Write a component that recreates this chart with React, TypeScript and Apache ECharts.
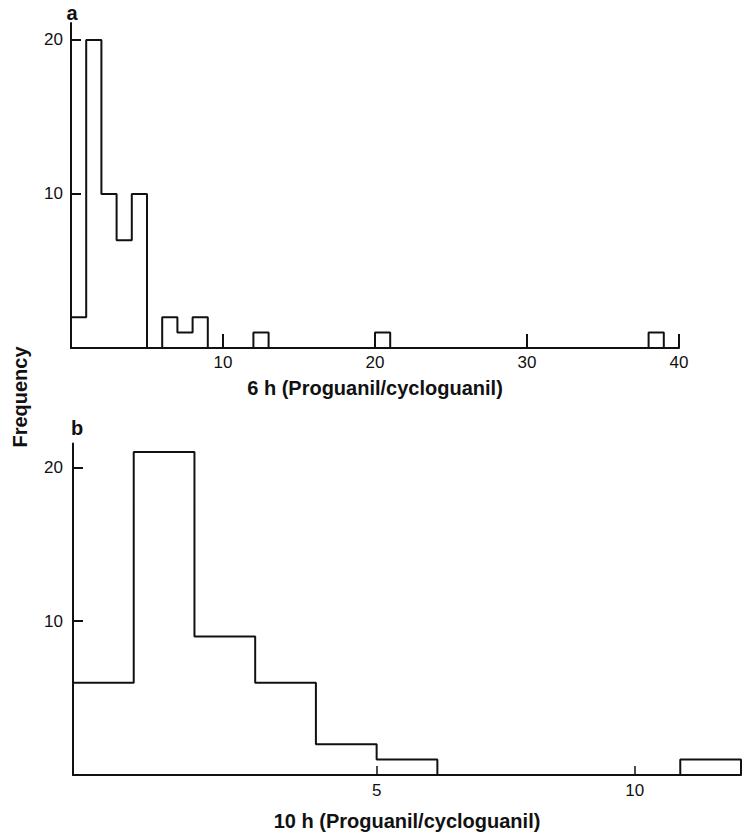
import React, { useEffect, useRef } from "react";
import * as echarts from "echarts";

// Panel a: 6 h ratio histogram (bin left edges, bin width 1)
const binStarts6h = [0, 1, 2, 3, 4, 6, 7, 8, 12, 20, 38];
const counts6h = [2, 20, 10, 7, 10, 2, 1, 2, 1, 1, 1];
// Panel b: 10 h ratio histogram
const binStarts10h = [0, 1, 2, 3, 4, 5, 10];
const counts10h = [6, 21, 9, 6, 2, 1, 1];
const binWidth = 1;

const xTicks6h = [10, 20, 30, 40];
const xTickLabels6h = ["10", "20", "30", "40"];
const xTicks10h = [5, 9.25];
const xTickLabels10h = ["5", "10"];
const yTicks = [10, 20];
const yTickLabels = ["10", "20"];

function outline(starts: number[], counts: number[], w: number) {
  const pts: number[][] = [];
  let prevEnd: number | null = null;
  starts.forEach((s, i) => {
    if (prevEnd === null) pts.push([s, 0]);
    else if (prevEnd !== s) {
      pts.push([prevEnd, 0]);
      pts.push([s, 0]);
    }
    pts.push([s, counts[i]]);
    pts.push([s + w, counts[i]]);
    prevEnd = s + w;
  });
  pts.push([prevEnd as number, 0]);
  return pts;
}

function lookup(ticks: number[], labels: string[]) {
  return (v: number) => {
    const i = ticks.findIndex((t) => Math.abs(t - v) < 1e-6);
    return i >= 0 ? labels[i] : "";
  };
}

const FONT = "Liberation Sans, Arial, Helvetica, sans-serif";
const black = "#111";

export default function App() {
  const ref = useRef<HTMLDivElement>(null);
  useEffect(() => {
    if (!ref.current) return;
    const chart = echarts.init(ref.current, null, { renderer: "svg" });
    const axisLine = { show: true, lineStyle: { color: black, width: 2 } };
    const tickLabel = { color: black, fontSize: 17, fontFamily: FONT };
    const nameStyle = { color: black, fontSize: 20, fontWeight: "bold" as const, fontFamily: FONT };
    chart.setOption({
      animation: false,
      backgroundColor: "#fff",
      grid: [
        { left: 71, top: 23, width: 608, height: 325, containLabel: false },
        { left: 73, top: 443.5, width: 668, height: 331.5, containLabel: false },
      ],
      xAxis: [
        {
          type: "value",
          gridIndex: 0,
          min: 0,
          max: 40,
          axisLine,
          splitLine: { show: false },
          axisTick: { show: true, inside: true, length: 14, customValues: xTicks6h, lineStyle: { color: black, width: 2 } },
          axisLabel: { ...tickLabel, margin: 6, customValues: xTicks6h, formatter: lookup(xTicks6h, xTickLabels6h) },
          name: "6 h (Proguanil/cycloguanil)",
          nameLocation: "middle",
          nameGap: 30,
          nameTextStyle: nameStyle,
        },
        {
          type: "value",
          gridIndex: 1,
          min: 0,
          max: 11,
          axisLine,
          splitLine: { show: false },
          axisTick: { show: true, inside: true, length: 9, customValues: xTicks10h, lineStyle: { color: black, width: 1.5 } },
          axisLabel: { ...tickLabel, margin: 7, customValues: xTicks10h, formatter: lookup(xTicks10h, xTickLabels10h) },
          name: "10 h (Proguanil/cycloguanil)",
          nameLocation: "middle",
          nameGap: 36,
          nameTextStyle: nameStyle,
        },
      ],
      yAxis: [
        {
          type: "value",
          gridIndex: 0,
          min: 0,
          max: 21.1,
          axisLine,
          splitLine: { show: false },
          axisTick: { show: true, inside: true, length: 10, customValues: yTicks, lineStyle: { color: black, width: 2 } },
          axisLabel: { ...tickLabel, margin: 8, customValues: yTicks, formatter: lookup(yTicks, yTickLabels) },
        },
        {
          type: "value",
          gridIndex: 1,
          min: 0,
          max: 21.55,
          axisLine,
          splitLine: { show: false },
          axisTick: { show: true, inside: true, length: 10, customValues: yTicks, lineStyle: { color: black, width: 2 } },
          axisLabel: { ...tickLabel, margin: 10, customValues: yTicks, formatter: lookup(yTicks, yTickLabels) },
        },
      ],
      series: [
        {
          type: "line",
          xAxisIndex: 0,
          yAxisIndex: 0,
          data: outline(binStarts6h, counts6h, binWidth),
          symbol: "none",
          lineStyle: { color: black, width: 2 },
          silent: true,
        },
        {
          type: "line",
          xAxisIndex: 1,
          yAxisIndex: 1,
          data: outline(binStarts10h, counts10h, binWidth),
          symbol: "none",
          lineStyle: { color: black, width: 2 },
          silent: true,
        },
      ],
      graphic: [
        {
          type: "text",
          x: 72,
          y: 13,
          style: { text: "a", fill: black, font: `bold 20px ${FONT}`, textAlign: "center", textVerticalAlign: "middle" },
        },
        {
          type: "text",
          x: 77,
          y: 428,
          style: { text: "b", fill: black, font: `bold 20px ${FONT}`, textAlign: "center", textVerticalAlign: "middle" },
        },
        {
          type: "text",
          x: 20,
          y: 397,
          rotation: Math.PI / 2,
          style: { text: "Frequency", fill: black, font: `bold 20px ${FONT}`, textAlign: "center", textVerticalAlign: "middle" },
        },
      ],
    });
    return () => chart.dispose();
  }, []);
  return (
    <div
      ref={ref}
      style={{ position: "absolute", left: 0, top: 0, width: 745, height: 832 }}
    />
  );
}
